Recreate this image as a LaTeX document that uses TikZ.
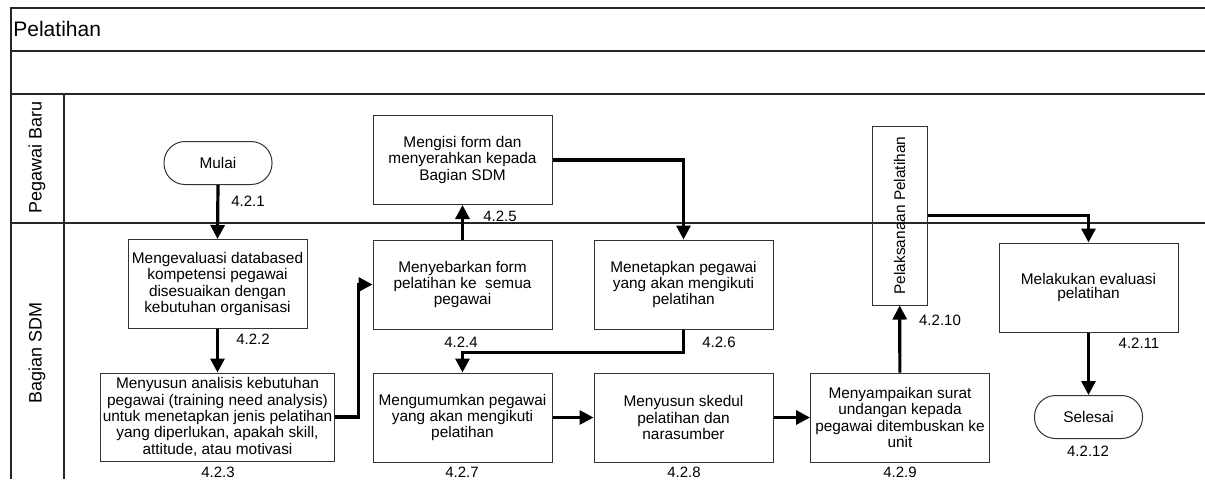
\documentclass[tikz,border=0pt]{standalone}
\usepackage{fontspec}
\setmainfont{Liberation Sans}
\usetikzlibrary{arrows.meta}
\begin{document}
\begin{tikzpicture}[x=0.5pt,y=-0.5pt,>={Triangle[length=7pt,width=7pt]},
              proc node/.style={rectangle,draw=black!80,line width=0.5pt,minimum width=89.5pt,
                minimum height=44.5pt,align=center,inner sep=1pt,font=\fontsize{7.7}{6.8}\selectfont},
              term node/.style={rectangle,rounded corners=10.5pt,draw=black!80,line width=0.5pt,
                minimum width=54pt,minimum height=21.5pt,font=\fontsize{7.7}{6.8}\selectfont},
              num node/.style={inner sep=0pt,font=\fontsize{7.5}{9}\selectfont},
              lane node/.style={rotate=90,inner sep=0pt,font=\fontsize{9}{11}\selectfont},
              frame line/.style={draw=black!85,line width=0.6pt},
              flow/.style={->,line width=1.6pt}]

            \useasboundingbox (0,0) rectangle (1205,479);

            % pool and lanes
            \draw[frame line] (11,479) -- (11,8) -- (1205,8);
            \draw[frame line] (11,51) -- (1205,51);
            \draw[frame line] (11,94) -- (1205,94);
            \draw[frame line] (11,223) -- (1205,223);
            \draw[frame line] (64,94) -- (64,479);

            \node[anchor=west,inner sep=0pt,font=\fontsize{10.5}{12}\selectfont] (title) at (13,29) {Pelatihan};
            \node[lane node] (lane1) at (37,157) {Pegawai Baru};
            \node[lane node] (lane2) at (37,353) {Bagian SDM};

            % steps
            \node[term node] (start) at (218,163) {Mulai};
            \node[proc node] (b2) at (217.5,284) {Mengevaluasi databased\\kompetensi pegawai\\disesuaikan dengan\\kebutuhan organisasi};
            \node[proc node,minimum width=116.5pt,minimum height=44pt] (b3) at (217.5,417) {Menyusun analisis kebutuhan\\pegawai (training need analysis)\\untuk menetapkan jenis pelatihan\\yang diperlukan, apakah skill,\\attitude, atau motivasi};
            \node[proc node] (b4) at (462.5,284.5) {Menyebarkan form\\pelatihan ke\ \ semua\\pegawai};
            \node[proc node] (b5) at (462.5,160) {Mengisi form dan\\menyerahkan kepada\\Bagian SDM};
            \node[proc node] (b6) at (683.5,284.5) {Menetapkan pegawai\\yang akan mengikuti\\pelatihan};
            \node[proc node] (b7) at (462.5,417.5) {Mengumumkan pegawai\\yang akan mengikuti\\pelatihan};
            \node[proc node] (b8) at (683.5,417.5) {Menyusun skedul\\pelatihan dan\\narasumber};
            \node[proc node] (b9) at (900,417.5) {Menyampaikan surat\\undangan kepada\\pegawai ditembuskan ke\\unit};
            \node[proc node,minimum width=27.5pt,minimum height=89.5pt] (b10) at (899.5,215.5) {\rotatebox{90}{Pelaksanaan Pelatihan}};
            \node[proc node] (b11) at (1088.5,287.5) {Melakukan evaluasi\\pelatihan};
            \node[term node] (stop) at (1088.5,417) {Selesai};

            % numbers
            \node[num node] (n1) at (248,201) {4.2.1};
            \node[num node] (n2) at (253,339) {4.2.2};
            \node[num node] (n3) at (218,472) {4.2.3};
            \node[num node] (n4) at (461,342) {4.2.4};
            \node[num node] (n5) at (500,216) {4.2.5};
            \node[num node] (n6) at (719,342) {4.2.6};
            \node[num node] (n7) at (462,472) {4.2.7};
            \node[num node] (n8) at (684,472) {4.2.8};
            \node[num node] (n9) at (900,472) {4.2.9};
            \node[num node] (n10) at (940,320) {4.2.10};
            \node[num node] (n11) at (1139,343) {4.2.11};
            \node[num node] (n12) at (1088,451) {4.2.12};

            \path[flow]
            (start.south) edge (b2.north)
            (b2) edge (b3)
            (b4) edge (b5)
            (b7) edge (b8)
            (b8) edge (b9)
            (b9) edge (b10)
            (b11) edge (stop);
            \draw[flow] (b3.east) -- ++(24,0) |- (b4.west);
            \draw[flow] (b5.east) -| (b6.north);
            \draw[flow] (b6.south) -- ++(0,23) -| (b7.north);
            \draw[flow] (b10.east) -| (b11.north);
          \end{tikzpicture}
\end{document}
